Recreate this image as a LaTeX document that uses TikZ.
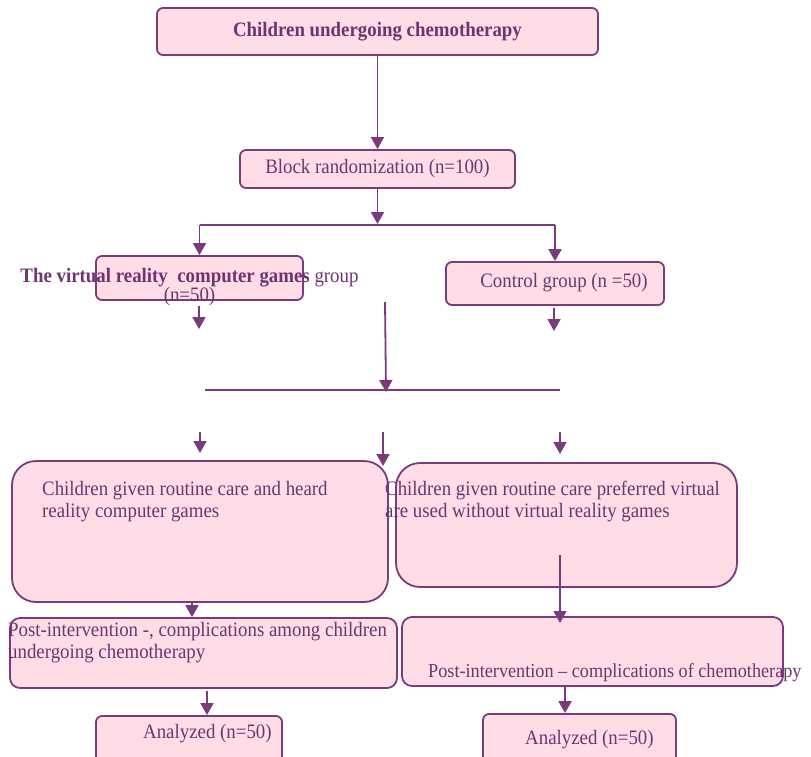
\documentclass[tikz,border=0pt]{standalone}
\usepackage{xcolor}
\usepackage{fontspec}
\setmainfont{Liberation Serif}[FakeStretch=0.92]
\usetikzlibrary{shapes, arrows.meta, positioning}
\definecolor{chemoline}{HTML}{7A3B7C}
\definecolor{chemofill}{HTML}{FFDDE6}
\definecolor{chemotext}{HTML}{6E3470}

\begin{document}
\begin{tikzpicture}[x=1pt, y=-1pt,
        box/.style={draw=chemoline, fill=chemofill, line width=1.8pt, rounded corners=6pt, inner sep=0pt, text=chemotext, font=\fontsize{20.5}{22}\selectfont},
        bigbox/.style={box, rounded corners=24pt},
        label/.style={text=chemotext, inner sep=0pt, font=\fontsize{20.5}{22}\selectfont, align=left},
        arr/.style={draw=chemoline, line width=1.8pt, -{Triangle[length=12pt, width=13pt]}},
        link/.style={draw=chemoline, line width=1.5pt}]
        \clip (0,0) rectangle (811,757);

        % boxes
        \node (top) [box, minimum width=441pt, minimum height=47pt] at (377.5,31.5) {\textbf{Children undergoing chemotherapy}};
        \node (rand) [box, minimum width=275pt, minimum height=38pt] at (377.5,169) {Block randomization (n=100)};
        \node (vr) [box, minimum width=207pt, minimum height=44pt] at (199.5,278) {};
        \node (ctrl) [box, minimum width=218pt, minimum height=43pt] at (555,283.5) {};
        \node (careL) [bigbox, minimum width=376pt, minimum height=141pt] at (200,531.5) {};
        \node (careR) [bigbox, minimum width=341pt, minimum height=124pt] at (566.5,525) {};
        \node (postL) [box, rounded corners=10pt, minimum width=387pt, minimum height=70pt] at (203.5,653) {};
        \node (postR) [box, rounded corners=10pt, minimum width=381pt, minimum height=69pt] at (592.5,651.5) {};
        \node (anaL) [box, minimum width=186pt, minimum height=60pt] at (189,746) {};
        \node (anaR) [box, minimum width=193pt, minimum height=60pt] at (579.5,744) {};

        % texts
        \node (vrtext) [label, align=center, font=\fontsize{20.5}{19}\selectfont] at (189.5,287) {\textbf{The virtual reality\ \ computer games}\ group\\(n=50)};
        \node (ctrltext) [label] at (564,283) {Control group (n =50)};
        \node (careLtext) [label, anchor=north west] at (42,481) {Children given routine care and heard\\reality computer games};
        \node (careRtext) [label, anchor=north west] at (385,481) {Children given routine care preferred virtual\\are used without virtual reality games};
        \node (postLtext) [label, anchor=north west] at (8,622) {Post-intervention -, complications among children\\undergoing chemotherapy};
        \node (postRtext) [label, anchor=north west, font=\fontsize{19.8}{22}\selectfont] at (428,663) {Post-intervention -- complications of chemotherapy};
        \node (anaLtext) [label, anchor=north west] at (143,724) {Analyzed (n=50)};
        \node (anaRtext) [label, anchor=north west] at (525,730) {Analyzed (n=50)};

        % connector points
        \coordinate (split) at (377.5,224);
        \coordinate (splitL) at (199.5,225);
        \coordinate (splitR) at (555,225);
        \coordinate (vrend) at (199,329);
        \coordinate (ctrlend) at (554,331);
        \coordinate (midtop) at (385,302);
        \coordinate (midjoin) at (386,392);
        \coordinate (joinL) at (205,390);
        \coordinate (joinR) at (560,390);
        \coordinate (downL) at (200,432);
        \coordinate (downM) at (383,432);
        \coordinate (downR) at (560,432);
        \coordinate (endL) at (200,453);
        \coordinate (endM) at (383,466);
        \coordinate (endR) at (560,454);
        \coordinate (careRline) at (560,555);
        \coordinate (careRend) at (560,623);

        % connectors
        \draw [arr] (top) -- (rand);
        \draw [arr] (rand) -- (split);
        \draw [link] (splitL) -- (splitR);
        \draw [arr] (splitL) -- (vr);
        \draw [arr] (splitR) -- (ctrl);
        \draw [arr, shorten <=5pt] (vr.south -| vrend) -- (vrend);
        \draw [arr, shorten <=2pt] (ctrl.south -| ctrlend) -- (ctrlend);
        \draw [arr] (midtop) -- (midjoin);
        \draw [link] (joinL) -- (joinR);
        \draw [arr] (downL) -- (endL);
        \draw [arr] (downM) -- (endM);
        \draw [arr] (downR) -- (endR);
        \draw [arr] ([xshift=-8pt]careL.south) -- ([xshift=-11.5pt]postL.north);
        \draw [arr] (careRline) -- (careRend);
        \draw [arr, shorten <=2pt] ([xshift=3.5pt]postL.south) -- ([xshift=18pt]anaL.north);
        \draw [arr] ([xshift=-27.5pt]postR.south) -- ([xshift=-14.5pt]anaR.north);
\end{tikzpicture}
\end{document}
